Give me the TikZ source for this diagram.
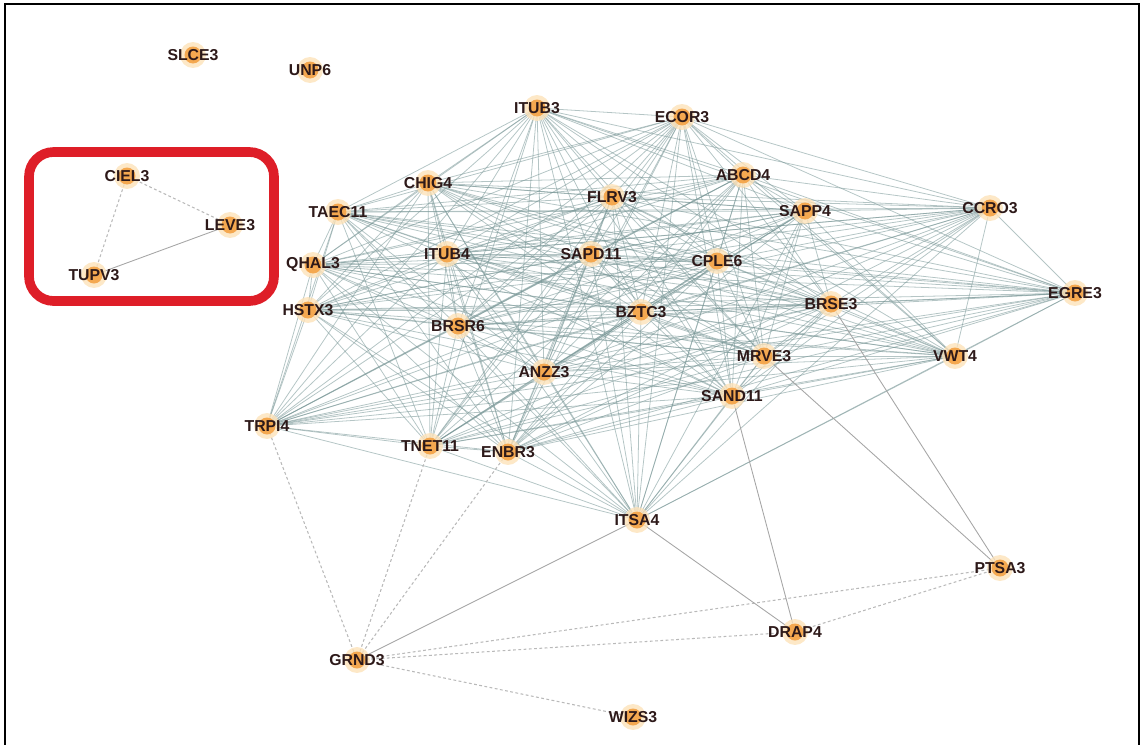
\documentclass[tikz,border=0pt]{standalone}
\usepackage{fontspec}
\setmainfont{Liberation Sans}
\pgfdeclarelayer{bg}
\pgfsetlayers{bg,main}
\definecolor{nodeor}{RGB}{244,168,80}
\definecolor{halo}{RGB}{252,226,185}
\definecolor{edgec}{RGB}{120,150,150}
\definecolor{labc}{RGB}{45,25,25}
\definecolor{boxred}{RGB}{222,30,40}
\tikzset{
  gn/.style={circle, minimum size=0.34cm, inner sep=0pt, fill=nodeor,
    preaction={draw=halo, line width=5pt, opacity=0.8}},
  lab/.style={font=\bfseries\fontsize{9}{10}\selectfont, text=labc},
  edge/.style={draw=edgec, line width=0.45pt, opacity=0.55},
  sedge/.style={draw=gray!70, line width=0.5pt},
  dedge/.style={draw=gray!55, line width=0.6pt, dash pattern=on 1.6pt off 1.4pt},
}
\begin{document}
\begin{tikzpicture}[x=0.02cm, y=-0.02cm]
\useasboundingbox (0,0) rectangle (1143,744);
\clip (0,0) rectangle (1143,744);
\draw[line width=1.2pt] (5,4) rectangle (1139,770);

% nodes
\foreach \n/\x/\y in {
  SLCE3/193/55, UNP6/310/70, CIEL3/127/176, LEVE3/230/225, TUPV3/94/275,
  TAEC11/338/212, QHAL3/313/265, HSTX3/308/310, CHIG4/428/183, ITUB3/537/108,
  ECOR3/682/117, ABCD4/743/175, FLRV3/612/197, SAPP4/805/211, CCRO3/990/208,
  ITUB4/447/254, SAPD11/591/254, CPLE6/717/261, BRSE3/831/304, EGRE3/1075/293,
  BZTC3/641/312, BRSR6/458/326, MRVE3/764/356, VWT4/955/356, ANZZ3/544/372,
  SAND11/732/396, TRPI4/267/426, TNET11/430/446, ENBR3/508/452, ITSA4/637/520,
  PTSA3/1000/568, DRAP4/795/632, GRND3/357/660, WIZS3/633/717}
  \node[gn, label={[lab]center:\n}] (\n) at (\x,\y) {};

% highlight box
\draw[boxred, line width=5.5pt, rounded corners=14pt] (29,152) rectangle (274,301);

\begin{pgfonlayer}{bg}
\foreach \a [count=\i] in {TAEC11,QHAL3,HSTX3,CHIG4,ITUB3,ECOR3,ABCD4,FLRV3,SAPP4,CCRO3,ITUB4,SAPD11,CPLE6,BRSE3,EGRE3,BZTC3,BRSR6,MRVE3,VWT4,ANZZ3,SAND11,TRPI4,TNET11,ENBR3,ITSA4}{
  \foreach \b [count=\j] in {TAEC11,QHAL3,HSTX3,CHIG4,ITUB3,ECOR3,ABCD4,FLRV3,SAPP4,CCRO3,ITUB4,SAPD11,CPLE6,BRSE3,EGRE3,BZTC3,BRSR6,MRVE3,VWT4,ANZZ3,SAND11,TRPI4,TNET11,ENBR3,ITSA4}{
    \ifnum\j>\i \draw[edge] (\a) -- (\b); \fi
  }
}
\draw[dedge] (CIEL3) -- (LEVE3);
\draw[dedge] (CIEL3) -- (TUPV3);
\draw[sedge] (TUPV3) -- (LEVE3);
\draw[sedge] (GRND3) -- (ITSA4);
\draw[dedge] (GRND3) -- (TRPI4);
\draw[dedge] (GRND3) -- (TNET11);
\draw[dedge] (GRND3) -- (ENBR3);
\draw[dedge] (GRND3) -- (PTSA3);
\draw[dedge] (GRND3) -- (DRAP4);
\draw[dedge] (GRND3) -- (WIZS3);
\draw[dedge] (PTSA3) -- (DRAP4);
\draw[sedge] (DRAP4) -- (ITSA4);
\draw[sedge] (DRAP4) -- (SAND11);
\draw[sedge] (PTSA3) -- (BRSE3);
\draw[sedge] (PTSA3) -- (MRVE3);
\end{pgfonlayer}
\end{tikzpicture}
\end{document}
